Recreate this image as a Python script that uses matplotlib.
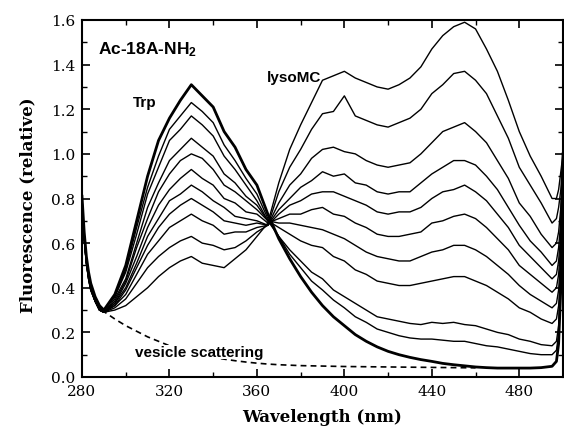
import matplotlib
matplotlib.use("Agg")
import matplotlib.pyplot as plt
from matplotlib.ticker import MultipleLocator

plt.rcParams['mathtext.default'] = 'regular'

# wavelength grid (nm)
wavelength = [280, 281, 282, 283, 284, 286, 288, 290,
              295, 300, 305, 310, 315, 320, 325, 330, 335, 340, 345, 350, 355, 360,
              365, 370, 375, 380, 385, 390, 395, 400, 405, 410, 415, 420, 425, 430,
              435, 440, 445, 450, 455, 460, 465, 470, 475, 480, 485, 490, 495,
              497, 498, 499, 500]

# spectra, from pure Trp (thick) to highest lysoMC
spec_00 = [0.81, 0.65, 0.54, 0.47, 0.42, 0.36, 0.32, 0.30,
           0.37, 0.50, 0.70, 0.90, 1.06, 1.16, 1.24, 1.31, 1.26, 1.21, 1.10, 1.03, 0.93, 0.86,
           0.73, 0.62, 0.53, 0.45, 0.38, 0.32, 0.27, 0.23, 0.19, 0.16, 0.135, 0.115, 0.10, 0.088,
           0.078, 0.07, 0.061, 0.055, 0.05, 0.045, 0.042, 0.04, 0.04, 0.04, 0.04, 0.042, 0.048,
           0.07, 0.15, 0.40, 1.00]
spec_01 = [0.80, 0.64, 0.53, 0.46, 0.41, 0.35, 0.31, 0.30,
           0.36, 0.48, 0.67, 0.85, 0.99, 1.11, 1.17, 1.23, 1.19, 1.14, 1.04, 0.97, 0.89, 0.82,
           0.71, 0.63, 0.55, 0.49, 0.43, 0.39, 0.345, 0.31, 0.27, 0.245, 0.215, 0.20, 0.185, 0.175,
           0.17, 0.17, 0.165, 0.16, 0.16, 0.15, 0.14, 0.135, 0.125, 0.115, 0.105, 0.10, 0.10,
           0.12, 0.19, 0.42, 1.00]
spec_02 = [0.80, 0.64, 0.53, 0.46, 0.41, 0.35, 0.31, 0.30,
           0.36, 0.47, 0.64, 0.82, 0.94, 1.06, 1.11, 1.17, 1.13, 1.08, 0.99, 0.93, 0.86, 0.79,
           0.70, 0.63, 0.57, 0.52, 0.47, 0.44, 0.39, 0.36, 0.33, 0.30, 0.27, 0.26, 0.25, 0.24,
           0.235, 0.245, 0.24, 0.245, 0.235, 0.23, 0.215, 0.20, 0.19, 0.17, 0.16, 0.145, 0.14,
           0.16, 0.23, 0.45, 1.00]
spec_03 = [0.79, 0.63, 0.52, 0.45, 0.40, 0.34, 0.31, 0.29,
           0.35, 0.44, 0.60, 0.76, 0.87, 0.97, 1.02, 1.07, 1.03, 0.99, 0.91, 0.87, 0.81, 0.77,
           0.70, 0.67, 0.64, 0.61, 0.59, 0.58, 0.54, 0.52, 0.48, 0.46, 0.43, 0.42, 0.41, 0.41,
           0.42, 0.43, 0.44, 0.45, 0.45, 0.43, 0.41, 0.38, 0.35, 0.31, 0.29, 0.26, 0.24,
           0.26, 0.32, 0.50, 1.00]
spec_04 = [0.79, 0.63, 0.52, 0.45, 0.40, 0.34, 0.31, 0.29,
           0.34, 0.43, 0.58, 0.71, 0.83, 0.91, 0.97, 1.00, 0.98, 0.93, 0.86, 0.83, 0.79, 0.75,
           0.70, 0.69, 0.69, 0.68, 0.67, 0.66, 0.64, 0.62, 0.59, 0.56, 0.54, 0.53, 0.52, 0.52,
           0.54, 0.56, 0.57, 0.59, 0.59, 0.57, 0.54, 0.50, 0.46, 0.41, 0.37, 0.34, 0.31,
           0.33, 0.39, 0.55, 1.00]
spec_05 = [0.79, 0.63, 0.52, 0.45, 0.40, 0.34, 0.30, 0.29,
           0.33, 0.42, 0.54, 0.67, 0.77, 0.84, 0.89, 0.93, 0.89, 0.86, 0.80, 0.78, 0.74, 0.73,
           0.69, 0.71, 0.73, 0.73, 0.75, 0.76, 0.73, 0.72, 0.69, 0.67, 0.64, 0.63, 0.63, 0.64,
           0.65, 0.69, 0.70, 0.72, 0.73, 0.71, 0.67, 0.62, 0.57, 0.50, 0.46, 0.42, 0.38,
           0.40, 0.46, 0.60, 1.00]
spec_06 = [0.78, 0.62, 0.51, 0.45, 0.40, 0.34, 0.30, 0.29,
           0.33, 0.40, 0.51, 0.63, 0.71, 0.79, 0.82, 0.86, 0.83, 0.79, 0.76, 0.72, 0.71, 0.70,
           0.68, 0.73, 0.77, 0.79, 0.82, 0.83, 0.83, 0.81, 0.79, 0.77, 0.74, 0.73, 0.74, 0.74,
           0.76, 0.80, 0.83, 0.84, 0.86, 0.83, 0.79, 0.73, 0.67, 0.59, 0.54, 0.49, 0.44,
           0.46, 0.52, 0.65, 1.00]
spec_07 = [0.78, 0.62, 0.51, 0.44, 0.39, 0.34, 0.30, 0.29,
           0.32, 0.39, 0.49, 0.59, 0.67, 0.73, 0.77, 0.80, 0.77, 0.74, 0.70, 0.69, 0.68, 0.69,
           0.68, 0.75, 0.80, 0.85, 0.88, 0.92, 0.90, 0.91, 0.87, 0.86, 0.83, 0.82, 0.83, 0.83,
           0.87, 0.91, 0.94, 0.97, 0.97, 0.95, 0.90, 0.84, 0.76, 0.68, 0.61, 0.56, 0.50,
           0.52, 0.58, 0.70, 1.00]
spec_08 = [0.78, 0.62, 0.51, 0.44, 0.39, 0.34, 0.30, 0.29,
           0.32, 0.37, 0.46, 0.55, 0.61, 0.67, 0.70, 0.73, 0.70, 0.68, 0.64, 0.65, 0.65, 0.67,
           0.68, 0.78, 0.86, 0.91, 0.98, 1.02, 1.03, 1.01, 1.00, 0.97, 0.95, 0.94, 0.95, 0.96,
           1.00, 1.05, 1.10, 1.12, 1.14, 1.10, 1.05, 0.97, 0.89, 0.78, 0.72, 0.64, 0.58,
           0.60, 0.65, 0.76, 1.00]
spec_09 = [0.78, 0.62, 0.51, 0.44, 0.39, 0.34, 0.30, 0.29,
           0.31, 0.35, 0.42, 0.49, 0.54, 0.58, 0.61, 0.63, 0.60, 0.59, 0.57, 0.58, 0.61, 0.65,
           0.68, 0.83, 0.94, 1.02, 1.11, 1.18, 1.19, 1.26, 1.17, 1.15, 1.13, 1.12, 1.14, 1.16,
           1.20, 1.27, 1.31, 1.36, 1.37, 1.33, 1.27, 1.17, 1.07, 0.94, 0.86, 0.78, 0.69,
           0.71, 0.76, 0.84, 1.00]
spec_10 = [0.78, 0.62, 0.51, 0.44, 0.39, 0.34, 0.30, 0.29,
           0.30, 0.32, 0.36, 0.40, 0.45, 0.49, 0.52, 0.54, 0.51, 0.50, 0.49, 0.53, 0.57, 0.63,
           0.69, 0.87, 1.02, 1.13, 1.23, 1.33, 1.35, 1.37, 1.34, 1.32, 1.30, 1.29, 1.31, 1.34,
           1.39, 1.47, 1.53, 1.57, 1.59, 1.56, 1.47, 1.37, 1.24, 1.10, 0.99, 0.90, 0.80,
           0.80, 0.84, 0.92, 1.00]

spectra = [spec_00, spec_01, spec_02, spec_03, spec_04, spec_05,
           spec_06, spec_07, spec_08, spec_09, spec_10]

# vesicle scattering (dashed)
scatter_wl = [289, 292, 295, 300, 305, 310, 315, 320, 325, 330, 335, 340, 345, 350,
              355, 360, 365, 370, 380, 390, 400, 410, 420, 430, 440, 450, 460]
scatter_val = [0.30, 0.28, 0.26, 0.23, 0.205, 0.18, 0.16, 0.14, 0.125, 0.11, 0.098,
               0.088, 0.08, 0.073, 0.067, 0.062, 0.058, 0.055, 0.051, 0.049, 0.047,
               0.046, 0.045, 0.044, 0.043, 0.042, 0.041]

for s in spectra:
    assert len(s) == len(wavelength), len(s)

fig = plt.figure(figsize=(5.64, 4.31), dpi=100)
ax = fig.add_axes([82/564, 1 - 378/431, 481/564, 357/431])

for i, s in enumerate(spectra):
    ax.plot(wavelength, s, color='black', lw=2.0 if i == 0 else 1.0,
            solid_joinstyle='round', zorder=3 if i == 0 else 2, clip_on=True)
ax.plot(scatter_wl, scatter_val, color='black', lw=1.2, ls=(0, (3.5, 2.5)), zorder=2)

ax.set_xlim(280, 500)
ax.set_ylim(0, 1.6)
ax.xaxis.set_major_locator(MultipleLocator(40))
ax.xaxis.set_minor_locator(MultipleLocator(20))
ax.yaxis.set_major_locator(MultipleLocator(0.2))
ax.yaxis.set_minor_locator(MultipleLocator(0.1))
ax.tick_params(which='both', direction='in', top=True, right=True)
ax.tick_params(which='major', length=6, width=1.2, pad=5)
ax.tick_params(which='minor', length=3.5, width=1.0)
for sp in ax.spines.values():
    sp.set_linewidth(1.5)
for lab in ax.get_xticklabels() + ax.get_yticklabels():
    lab.set_fontfamily('DejaVu Serif')
    lab.set_fontsize(11)

fig.text(28/564, 1 - 205/431, 'Fluorescence (relative)', rotation=90,
         ha='center', va='center', fontsize=12, fontweight='bold', family='DejaVu Serif')
fig.text(322/564, 1 - 418/431, 'Wavelength (nm)', ha='center', va='center',
         fontsize=12, fontweight='bold', family='DejaVu Serif')

sans = 'Liberation Sans'
ax.text(287.3, 1.45, 'Ac-18A-NH$_2$', fontsize=12.5, fontweight='bold', family=sans,
        ha='left', va='baseline')
ax.text(303.3, 1.215, 'Trp', fontsize=11, fontweight='bold', family=sans,
        ha='left', va='baseline')
ax.text(364.5, 1.327, 'lysoMC', fontsize=11, fontweight='bold', family=sans,
        ha='left', va='baseline')
ax.text(304.2, 0.094, 'vesicle scattering', fontsize=11, fontweight='bold', family=sans,
        ha='left', va='baseline', zorder=4,
        bbox=dict(facecolor='white', edgecolor='none', pad=0.3))

fig.savefig('out.png', dpi=100)
